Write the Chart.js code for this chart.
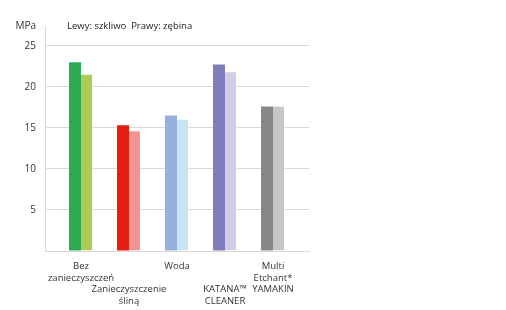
<!DOCTYPE html>
<html>
<head>
<meta charset="utf-8">
<script src="https://cdn.jsdelivr.net/npm/chart.js@4/dist/chart.umd.min.js"></script>
<style>
  html, body { margin: 0; padding: 0; background: #fff; }
  #wrap { width: 506px; height: 310px; }
</style>
</head>
<body>
<div id="wrap"><canvas id="barchart"></canvas></div>
<script>
const labels = [
  ['Bez', 'zanieczyszczeń'],
  ['', '', 'Zanieczyszczenie', 'śliną'],
  ['Woda'],
  ['', '', 'KATANA™', 'CLEANER'],
  ['Multi', 'Etchant*', 'YAMAKIN']
];
const enamel = [23.0, 15.3, 16.5, 22.7, 17.6];
const dentin = [21.6, 14.7, 16.1, 21.9, 17.7];
const enamelColors = ['#2eaa55', '#e51e14', '#98b1dc', '#7e7fba', '#878787'];
const dentinColors = ['#aecb56', '#f29591', '#c8e3f8', '#d2cde6', '#c6c6c6'];
const yTicks = [0, 5, 10, 15, 20, 25];
const legendText = 'Lewy: szkliwo  Prawy: zębina';

const font = { family: '"Open Sans", sans-serif', size: 9.5, lineHeight: 1.25 };
const ctx = document.getElementById('barchart');

// legend is just a line of text next to the unit label
const legendTextPlugin = {
  id: 'legendText',
  afterDraw(chart) {
    const c = chart.ctx;
    c.save();
    c.font = '9.5px "Open Sans", sans-serif';
    c.fillStyle = '#222';
    c.textBaseline = 'middle';
    c.fillText(legendText, chart.chartArea.left + 22, 26);
    c.restore();
  }
};

new Chart(ctx, {
  type: 'bar',
  data: {
    datasets: [{
      label: 'Lewy: szkliwo',
      data: enamel.map((v, i) => ({ x: i, y: v })),
      backgroundColor: enamelColors,
      borderWidth: 0
    }, {
      label: 'Prawy: zębina',
      data: dentin.map((v, i) => ({ x: i, y: v })),
      backgroundColor: dentinColors,
      borderColor: 'rgba(255,255,255,0.3)',
      borderWidth: { top: 1, right: 1, left: 0, bottom: 0 },
      borderSkipped: 'bottom'
    }]
  },
  options: {
    responsive: true,
    maintainAspectRatio: false,
    animation: false,
    categoryPercentage: 0.5,
    barPercentage: 1,
    layout: { padding: { left: 0, right: 197, top: 26, bottom: 0 } },
    scales: {
      x: {
        type: 'linear',
        min: -0.75,
        max: 4.75,
        offset: false,
        afterBuildTicks: (scale) => {
          scale.ticks = labels.map((_, i) => ({ value: i }));
        },
        afterFit: (scale) => { scale.height = 59; },
        ticks: {
          autoSkip: false,
          maxRotation: 0,
          padding: 9,
          color: '#333',
          font: font,
          callback: (v) => labels[v]
        },
        grid: { display: false, drawTicks: false, offset: false },
        border: { display: true, color: '#d9d9d9' }
      },
      y: {
        min: 0,
        max: 27.4,
        afterBuildTicks: (scale) => {
          scale.ticks = yTicks.concat([27.4]).map(v => ({ value: v }));
        },
        afterFit: (scale) => { scale.width = 45; },
        ticks: {
          padding: 9,
          color: '#333',
          font: { family: '"Open Sans", sans-serif', size: 10 },
          callback: (v) => v === 0 ? '' : (v === 27.4 ? 'MPa' : v)
        },
        grid: {
          drawTicks: false,
          color: (c) => (c.tick && c.tick.value === 27.4) ? 'rgba(0,0,0,0)' : '#d9d9d9'
        },
        border: { display: true, color: '#d9d9d9' }
      }
    },
    plugins: {
      legend: { display: false },
      tooltip: { enabled: false }
    }
  },
  plugins: [legendTextPlugin]
});
</script>
</body>
</html>
